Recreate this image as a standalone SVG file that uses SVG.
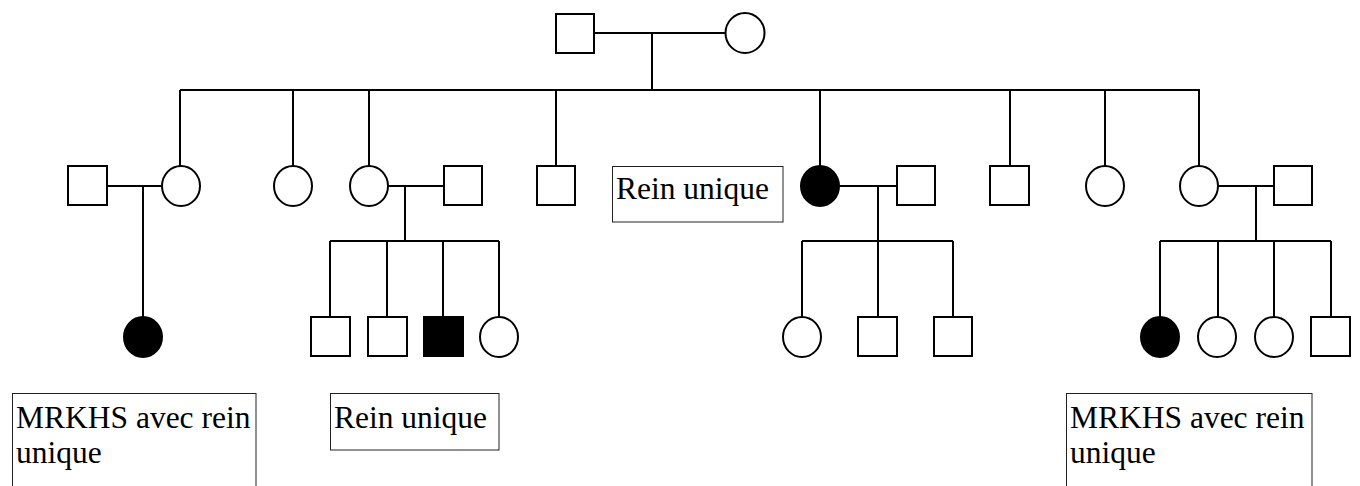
<svg xmlns="http://www.w3.org/2000/svg" width="1360" height="486" viewBox="0 0 1360 486">
<style>
.m{fill:#fff;stroke:#000;stroke-width:2}
.f{fill:#fff;stroke:#000;stroke-width:2}
.a{fill:#000;stroke:#000;stroke-width:2}
.ln{fill:none;stroke:#000;stroke-width:2}
.box{fill:#fff;stroke:#222;stroke-width:1}
.t{font-family:"Liberation Serif","Times New Roman",serif;font-size:31.5px;fill:#000}
</style>
<rect width="1360" height="486" fill="#fff"/>
<g id="connectors" class="ln">
<path d="M594 33H726M652 33V90M180 90H1200"/>
<path d="M180 90V166M293 90V166M369 90V166M556 90V166M820 90V166M1010 90V166M1105 90V166M1199 90V166"/>
<path d="M107 186H162M143 186V317"/>
<path d="M388 186H444M405 186V241M330 241H499M330 241V317M387 241V317M443 241V317M499 241V317"/>
<path d="M840 186H897M878 186V241M802 241H953M802 241V317M878 241V317M953 241V317"/>
<path d="M1218 186H1274M1256 186V241M1160 241H1331M1160 241V317M1218 241V317M1274 241V317M1331 241V317"/>
</g>
<g id="gen1-father"><rect class="m" x="556" y="14" width="38" height="39"/></g>
<g id="gen1-mother"><ellipse class="f" cx="745" cy="33" rx="19.5" ry="20"/></g>
<g id="g2-spouse1"><rect class="m" x="68" y="166" width="39" height="39"/></g>
<g id="g2-daughter1"><ellipse class="f" cx="181" cy="186" rx="19" ry="20"/></g>
<g id="g2-daughter2"><ellipse class="f" cx="293" cy="186" rx="19" ry="20"/></g>
<g id="g2-daughter3"><ellipse class="f" cx="369" cy="186" rx="19" ry="20"/></g>
<g id="g2-spouse3"><rect class="m" x="444" y="166" width="38" height="39"/></g>
<g id="g2-son1"><rect class="m" x="537" y="166" width="38" height="39"/></g>
<g id="label-rein-g2"><rect class="box" x="612.5" y="166.5" width="170.5" height="55.5"/><text class="t" x="616" y="199">Rein unique</text></g>
<g id="g2-daughter4-affected"><ellipse class="a" cx="820" cy="186" rx="19" ry="20"/></g>
<g id="g2-spouse4"><rect class="m" x="897" y="166" width="38" height="39"/></g>
<g id="g2-son2"><rect class="m" x="990" y="166" width="39" height="39"/></g>
<g id="g2-daughter5"><ellipse class="f" cx="1105" cy="186" rx="19" ry="20"/></g>
<g id="g2-daughter6"><ellipse class="f" cx="1199" cy="186" rx="19" ry="20"/></g>
<g id="g2-spouse6"><rect class="m" x="1274" y="166" width="38" height="39"/></g>
<g id="g3-a1-affected"><ellipse class="a" cx="143" cy="337" rx="19" ry="20"/></g>
<g id="g3-b1"><rect class="m" x="311" y="317" width="39" height="39"/></g>
<g id="g3-b2"><rect class="m" x="368" y="317" width="39" height="39"/></g>
<g id="g3-b3-affected"><rect class="a" x="424" y="317" width="39" height="39"/></g>
<g id="g3-b4"><ellipse class="f" cx="499" cy="337" rx="19" ry="20"/></g>
<g id="g3-c1"><ellipse class="f" cx="802" cy="337" rx="19" ry="20"/></g>
<g id="g3-c2"><rect class="m" x="858" y="317" width="39" height="39"/></g>
<g id="g3-c3"><rect class="m" x="934" y="317" width="38" height="39"/></g>
<g id="g3-d1-affected"><ellipse class="a" cx="1160" cy="337" rx="19" ry="20"/></g>
<g id="g3-d2"><ellipse class="f" cx="1217" cy="337" rx="19" ry="20"/></g>
<g id="g3-d3"><ellipse class="f" cx="1274" cy="337" rx="19" ry="20"/></g>
<g id="g3-d4"><rect class="m" x="1311" y="317" width="39" height="39"/></g>
<g id="label-mrkhs-left"><rect class="box" x="12.5" y="393.5" width="243.5" height="110"/><text class="t" x="16" y="428">MRKHS avec rein</text><text class="t" x="16" y="463">unique</text></g>
<g id="label-rein-g3"><rect class="box" x="330.5" y="393.5" width="168.5" height="56.5"/><text class="t" x="334" y="428">Rein unique</text></g>
<g id="label-mrkhs-right"><rect class="box" x="1066.5" y="393.5" width="245.5" height="110"/><text class="t" x="1070" y="428">MRKHS avec rein</text><text class="t" x="1070" y="463">unique</text></g>
</svg>
